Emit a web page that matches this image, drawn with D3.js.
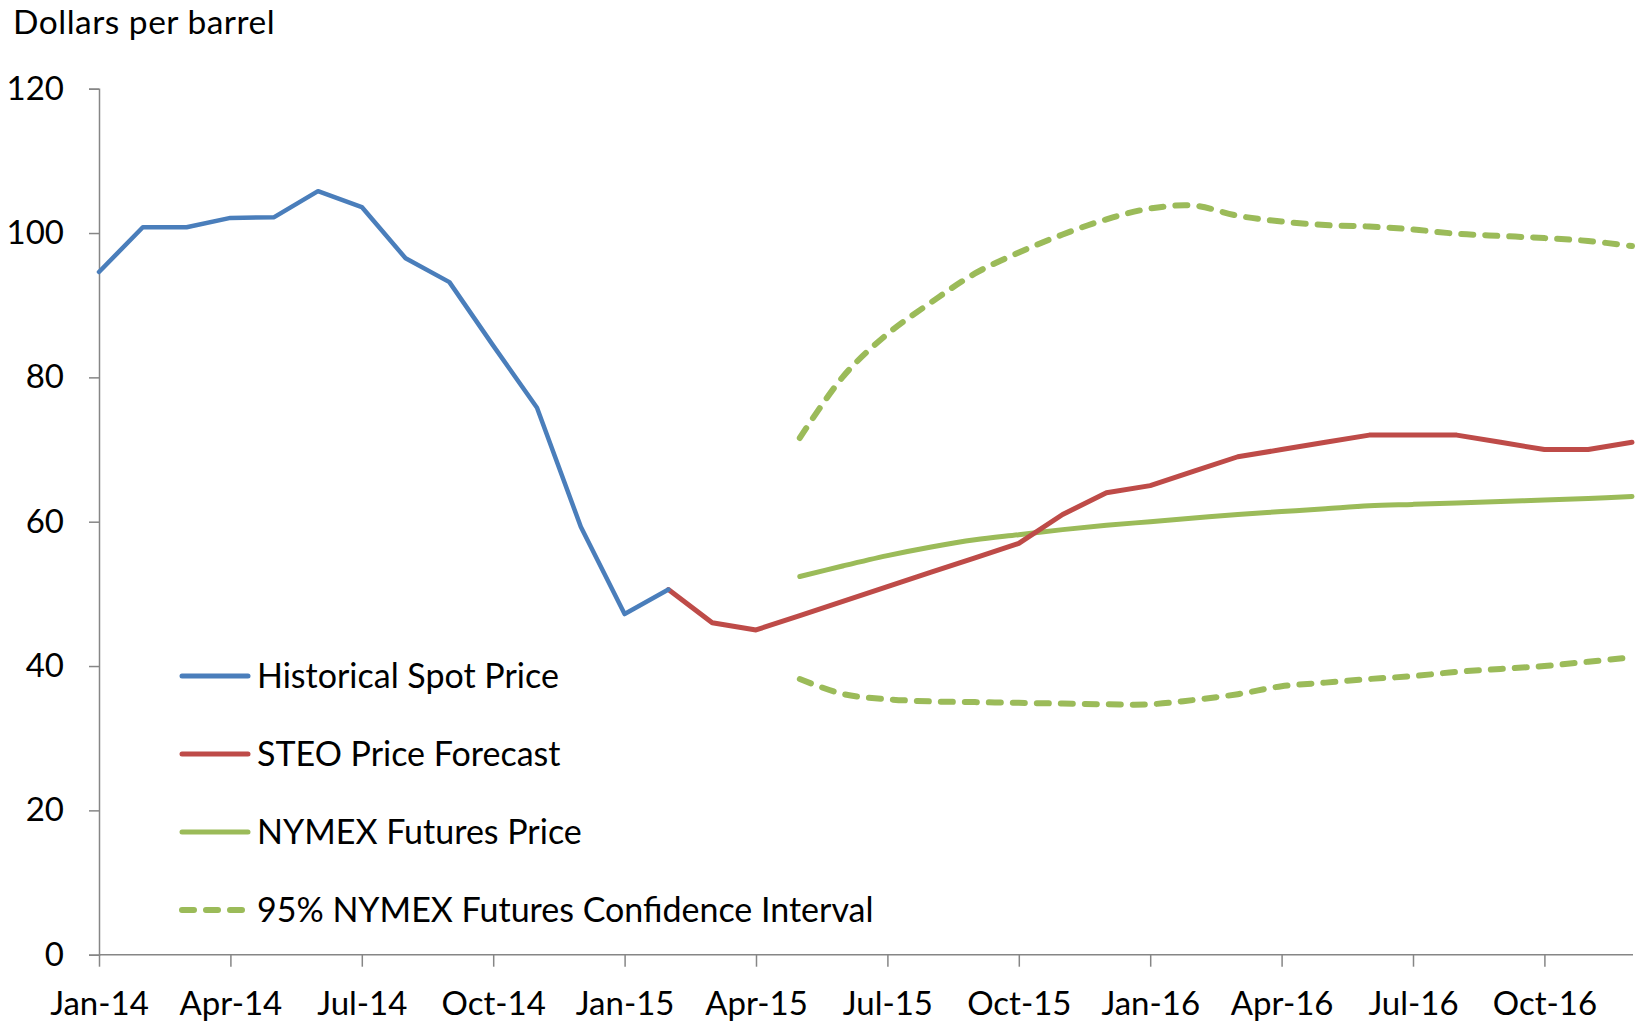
<!DOCTYPE html>
<html>
<head>
<meta charset="utf-8">
<script src="https://cdn.jsdelivr.net/npm/d3@7"></script>
<style>
  html, body { margin: 0; padding: 0; background: #fff; }
  svg { display: block; }
  text { font-family: Lato, "Open Sans", sans-serif; fill: #000; }
</style>
</head>
<body>
<svg id="chart" width="1636" height="1022"></svg>
<script>
// ---- Data ----
const months = ["Jan-14","Feb-14","Mar-14","Apr-14","May-14","Jun-14","Jul-14","Aug-14","Sep-14","Oct-14","Nov-14","Dec-14",
                "Jan-15","Feb-15","Mar-15","Apr-15","May-15","Jun-15","Jul-15","Aug-15","Sep-15","Oct-15","Nov-15","Dec-15",
                "Jan-16","Feb-16","Mar-16","Apr-16","May-16","Jun-16","Jul-16","Aug-16","Sep-16","Oct-16","Nov-16","Dec-16"];
const tickLabels = ["Jan-14","Apr-14","Jul-14","Oct-14","Jan-15","Apr-15","Jul-15","Oct-15","Jan-16","Apr-16","Jul-16","Oct-16"];
const yTicks = [0, 20, 40, 60, 80, 100, 120];

// Historical spot price: Jan-14 .. Feb-15
const historical = [94.6, 100.8, 100.8, 102.1, 102.2, 105.8, 103.6, 96.5, 93.2, 84.4, 75.8, 59.3, 47.2, 50.6];
// STEO forecast: Feb-15 .. Dec-16
const steo = [50.6, 46.0, 45.0, 47, 49, 51, 53, 55, 57, 61, 64, 65, 67, 69, 70, 71, 72, 72, 72, 71, 70, 70, 71];
// NYMEX futures: May-15 .. Dec-16
const futures = [52.4, 53.9, 55.3, 56.5, 57.5, 58.2, 58.9, 59.5, 60.0, 60.5, 61.0, 61.4, 61.8, 62.2, 62.4, 62.6, 62.8, 63.0, 63.2, 63.5];
// 95% confidence interval: May-15 .. Dec-16
const ciUpper = [71.6, 80.2, 86.0, 90.4, 94.4, 97.3, 99.8, 101.9, 103.4, 103.8, 102.4, 101.6, 101.1, 100.9, 100.5, 99.9, 99.6, 99.3, 98.9, 98.2];
const ciLower = [38.2, 36.1, 35.4, 35.1, 35.0, 34.9, 34.8, 34.7, 34.7, 35.3, 36.1, 37.2, 37.7, 38.2, 38.6, 39.2, 39.6, 40.0, 40.6, 41.2];

const seriesNames = ["Historical Spot Price", "STEO Price Forecast", "NYMEX Futures Price", "95% NYMEX Futures Confidence Interval"];
const colors = { blue: "#4A7EBB", red: "#BE4B48", green: "#9BBB59", axis: "#868686" };

// ---- Layout ----
const svg = d3.select("#chart");
const pLeft = 99, pRight = 1632, pTop = 88.7, pBottom = 954.7;

const x = d3.scalePoint().domain(months).range([pLeft, pRight]);
const y = d3.scaleLinear().domain([0, 120]).range([pBottom, pTop]);

const FS_TITLE = 33.5, FS_AXIS = 33, FS_LEGEND = 34;
const DASH = "12,12";

// Title
svg.append("text").attr("x", 13).attr("y", 34).attr("font-size", FS_TITLE)
  .attr("letter-spacing", 0.5).text("Dollars per barrel");

// Y axis
const yAxis = svg.append("g").attr("transform", `translate(${pLeft},0)`)
  .call(d3.axisLeft(y).tickValues(yTicks).tickSize(10).tickPadding(25).tickFormat(d3.format("d")));
yAxis.select(".domain").attr("stroke", colors.axis).attr("stroke-width", 1.5);
yAxis.selectAll(".tick line").attr("stroke", colors.axis).attr("stroke-width", 1.5);
yAxis.selectAll(".tick text").attr("font-size", FS_AXIS).attr("font-family", "Lato, sans-serif").attr("fill", "#000");

// X axis
const xAxis = svg.append("g").attr("transform", `translate(0,${pBottom})`)
  .call(d3.axisBottom(x).tickValues(tickLabels).tickSize(12).tickPadding(25).tickSizeOuter(0));
xAxis.select(".domain").attr("stroke", colors.axis).attr("stroke-width", 1.5)
  .attr("d", `M${pLeft},0H${pRight + 1}`);
xAxis.selectAll(".tick line").attr("stroke", colors.axis).attr("stroke-width", 1.5);
xAxis.selectAll(".tick text").attr("font-size", FS_AXIS).attr("font-family", "Lato, sans-serif").attr("fill", "#000");

// Lines
const lineStraight = d3.line().x(d => x(d.m)).y(d => y(d.v));
const lineSmooth = d3.line().x(d => x(d.m)).y(d => y(d.v)).curve(d3.curveCatmullRom.alpha(0.5));

const toPts = (arr, startIdx) => arr.map((v, i) => ({ m: months[startIdx + i], v }));

const g = svg.append("g").attr("fill", "none").attr("stroke-linejoin", "round");

g.append("path").datum(toPts(ciUpper, 16)).attr("d", lineSmooth)
  .attr("stroke", colors.green).attr("stroke-width", 6).attr("stroke-dasharray", DASH).attr("stroke-linecap", "round");
g.append("path").datum(toPts(ciLower, 16)).attr("d", lineSmooth)
  .attr("stroke", colors.green).attr("stroke-width", 6).attr("stroke-dasharray", DASH).attr("stroke-linecap", "round");
g.append("path").datum(toPts(futures, 16)).attr("d", lineSmooth)
  .attr("stroke", colors.green).attr("stroke-width", 5).attr("stroke-linecap", "round");
g.append("path").datum(toPts(steo, 13)).attr("d", lineStraight)
  .attr("stroke", colors.red).attr("stroke-width", 5).attr("stroke-linecap", "round");
g.append("path").datum(toPts(historical, 0)).attr("d", lineStraight)
  .attr("stroke", colors.blue).attr("stroke-width", 4.5).attr("stroke-linecap", "round");

// Legend
const legendY = [676, 754, 832, 910];
const legendStyles = [
  { c: colors.blue, dash: null },
  { c: colors.red, dash: null },
  { c: colors.green, dash: null },
  { c: colors.green, dash: DASH }
];
const lg = svg.append("g");
seriesNames.forEach((name, i) => {
  const row = lg.append("g");
  const ln = row.append("line").attr("x1", 182).attr("x2", 248).attr("y1", legendY[i]).attr("y2", legendY[i])
    .attr("stroke", legendStyles[i].c).attr("stroke-width", legendStyles[i].dash ? 6 : 5).attr("stroke-linecap", "round");
  if (legendStyles[i].dash) ln.attr("stroke-dasharray", legendStyles[i].dash);
  row.append("text").attr("x", 257).attr("y", legendY[i] + 12).attr("font-size", FS_LEGEND).text(name);
});
</script>
</body>
</html>
